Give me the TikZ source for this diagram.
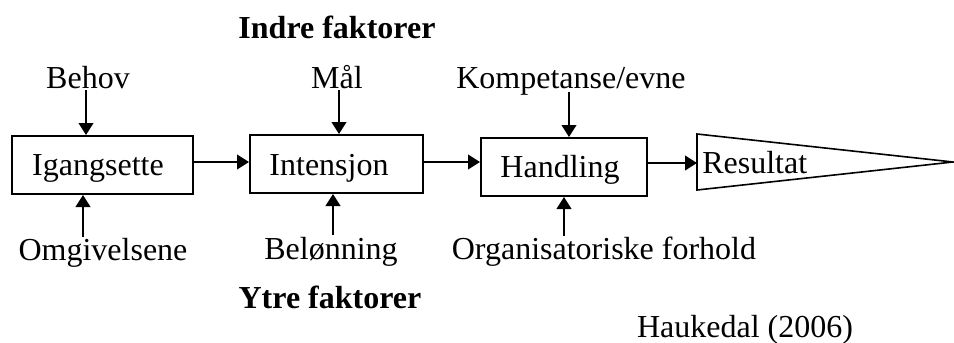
\documentclass[tikz,border=0pt]{standalone}
\usepackage{fontspec}
\setmainfont{Liberation Serif}
\usetikzlibrary{arrows.meta}
\begin{document}
\begin{tikzpicture}[x=0.75pt,y=-0.75pt,
  every node/.style={font=\fontsize{24}{28}\selectfont, inner sep=0pt},
  box/.style={draw, line width=1.5pt, minimum height=43.5pt},
  lbl/.style={anchor=base},
  head/.style={anchor=base, font=\fontsize{24}{28}\selectfont\bfseries},
  arr/.style={-{Triangle[length=9pt,width=11pt]}, line width=1.5pt}]
\useasboundingbox (0,0) rectangle (954,343);
% boxes
\node[box, minimum width=135.75pt] (b1) at (102.5,165) {};
\node[box, minimum width=129.75pt] (b2) at (336.5,164) {};
\node[box, minimum width=124.5pt] (b3) at (564,167) {};
\node[lbl] (b1t) at (98,175) {Igangsette};
\node[lbl] (b2t) at (329,175) {Intensjon};
\node[lbl] (b3t) at (560,177) {Handling};
% triangle
\coordinate (tl) at (697,134);
\coordinate (bl) at (697,190);
\coordinate (tip) at (953,162);
\draw[line width=1.2pt, line join=miter] (tl) -- (tip) -- (bl) -- cycle;
\coordinate (tin) at (697,163);
\node[anchor=base west] (res) at (702,173) {Resultat};
% headings
\node[head] (indre) at (337,38) {Indre faktorer};
\node[head] (ytre) at (330,308) {Ytre faktorer};
% top labels
\node[lbl] (behov) at (88,88) {Behov};
\node[lbl] (maal) at (337,88) {Mål};
\node[lbl] (komp) at (571,88) {Kompetanse/evne};
% bottom labels
\node[lbl] (omg) at (103,260) {Omgivelsene};
\node[lbl] (bel) at (331,259) {Belønning};
\node[lbl] (org) at (604,259) {Organisatoriske forhold};
\node[lbl] (hauk) at (745,337) {Haukedal (2006)};
% arrow start points
\coordinate (t1) at (86,90);
\coordinate (t2) at (339,90);
\coordinate (t3) at (569,92);
\coordinate (u1) at (83,237);
\coordinate (u2) at (333,235);
\coordinate (u3) at (564,236);
% vertical arrows
\draw[arr] (t1) -- (t1 |- b1.north);
\draw[arr] (t2) -- (t2 |- b2.north);
\draw[arr] (t3) -- (t3 |- b3.north);
\draw[arr] (u1) -- (u1 |- b1.south);
\draw[arr] (u2) -- (u2 |- b2.south);
\draw[arr] (u3) -- (u3 |- b3.south);
% horizontal arrows
\draw[arr] (b1.east |- 0,162) -- (b2.west |- 0,162);
\draw[arr] (b2.east |- 0,162) -- (b3.west |- 0,162);
\draw[arr] (b3.east |- tin) -- (tin);
\end{tikzpicture}
\end{document}
